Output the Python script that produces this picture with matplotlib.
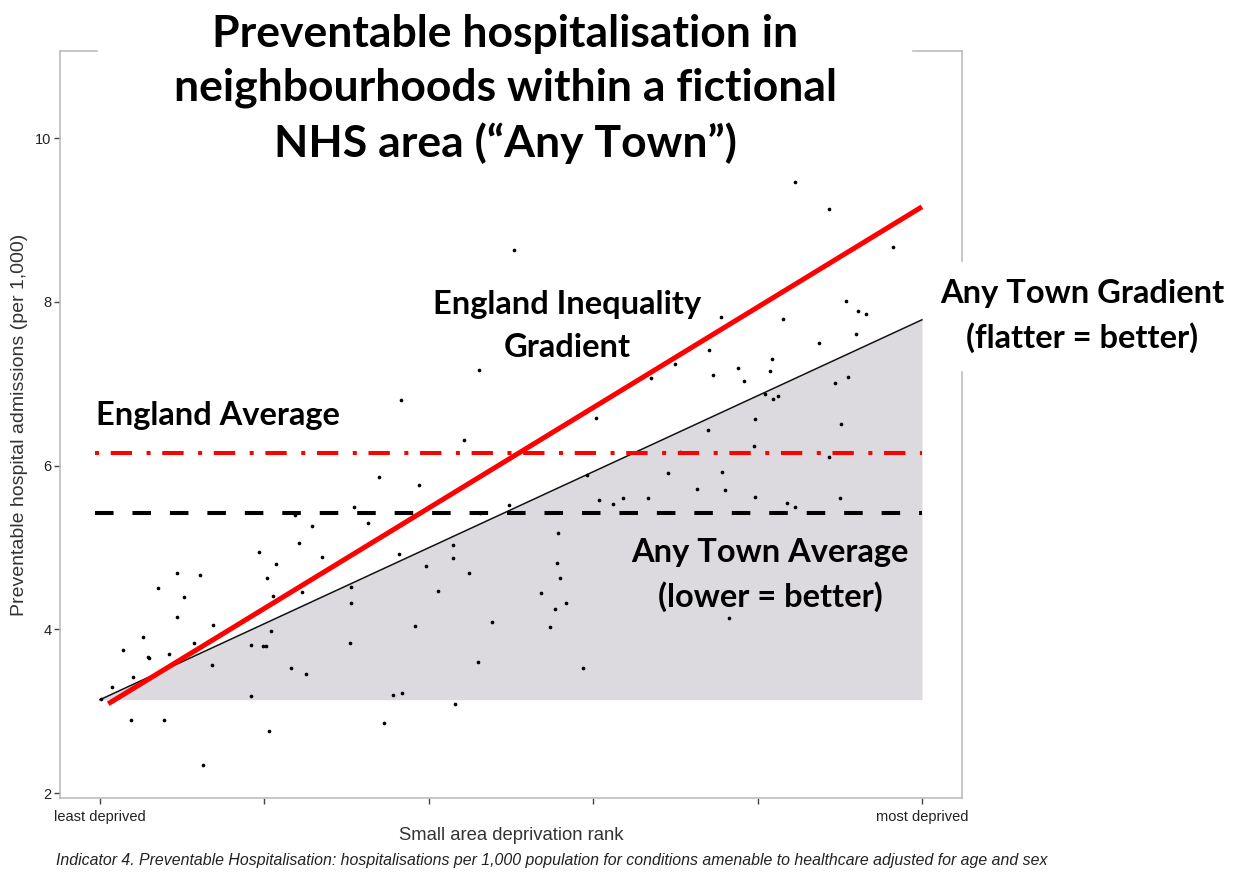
import matplotlib
matplotlib.use('Agg')
import matplotlib.pyplot as plt
from matplotlib.patches import Rectangle

# deprivation rank (0 = least deprived, 100 = most deprived) and admissions per 1,000
rank = [0.1, 1.5, 3.8, 4.0, 2.8, 5.2, 5.8, 6.0, 7.1, 7.8, 8.4, 9.4, 9.4, 10.2, 11.4, 12.2, 12.5, 13.8,
        13.6, 18.4, 18.4, 19.3, 19.8, 20.2, 20.3, 20.6, 20.8, 21.1, 21.4, 23.2, 24.2, 24.6, 25.1, 23.7,
        25.8, 27.0,
        50.4, 46.1, 36.6, 44.3, 33.9, 38.8, 30.9, 32.6, 46.2, 49.8, 36.4, 42.9, 42.9, 39.7, 44.9, 30.5,
        30.5, 41.1, 38.3, 47.7, 30.4, 46.0, 35.6, 36.7, 43.2, 34.5, 55.7, 55.6, 56.0, 53.6, 55.4, 54.7,
        56.7, 58.8, 60.3, 59.2, 60.7, 62.4, 63.6, 66.7, 69.1, 67.0, 70.0, 70.6, 72.6, 74.0, 74.1, 74.6,
        75.5, 75.7, 76.0, 76.5, 77.6, 78.3, 79.6, 79.7, 79.7, 80.9, 81.9, 82.5, 81.5, 81.8, 83.1, 83.6,
        84.5, 88.7, 96.5, 90.7, 92.2, 93.2, 92.0, 87.5, 89.4, 91.0, 90.1, 88.7, 90.0, 84.5]
admissions = [3.15, 3.29, 2.89, 3.42, 3.75, 3.91, 3.66, 3.65, 4.50, 2.89, 3.70, 4.69, 4.15, 4.39, 3.83,
              4.66, 2.34, 4.05, 3.56, 3.81, 3.18, 4.94, 3.80, 3.79, 4.63, 2.76, 3.98, 4.41, 4.80, 3.53,
              5.05, 4.45, 3.45, 5.40, 5.26, 4.88,
              8.63, 7.17, 6.80, 6.31, 5.86, 5.76, 5.49, 5.30, 5.42, 5.52, 4.92, 5.03, 4.87, 4.77, 4.69,
              4.52, 4.32, 4.47, 4.04, 4.09, 3.83, 3.60, 3.20, 3.22, 3.09, 2.85, 5.18, 4.81, 4.63, 4.44,
              4.25, 4.03,
              4.32, 3.53, 6.58, 5.88, 5.58, 5.53, 5.60, 5.60, 5.91, 7.07, 7.24, 6.16, 5.71, 6.43, 7.41,
              7.11, 7.81, 5.92, 5.70, 4.14, 7.19, 7.03, 6.24, 6.57, 5.62, 6.87, 6.81, 6.85, 7.15, 7.30,
              7.79, 5.54,
              9.46, 9.13, 8.67, 8.01, 7.89, 7.85, 7.61, 7.50, 7.01, 7.08, 6.51, 6.10, 5.60, 5.49]

town_grad_x = [0, 100]
town_grad_y = [3.14, 7.78]
england_grad_x = [1, 100]
england_grad_y = [3.09, 9.16]
town_avg = 5.42
england_avg = 6.15

xtick_pos = [0, 20, 40, 60, 80, 100]
xtick_lab = ['least deprived', '', '', '', '', 'most deprived']
ytick_pos = [2, 4, 6, 8, 10]

W, H = 1234, 873
fig = plt.figure(figsize=(W / 100, H / 100), dpi=100)
ax = fig.add_axes([60 / W, 75 / H, 902 / W, 747 / H])
ax.set_xlim(-4.87, 104.87)
ax.set_ylim(1.939, 11.063)

ax.fill_between(town_grad_x, [town_grad_y[0]] * 2, town_grad_y, color='#dcdade', lw=0, zorder=1)
ax.plot(town_grad_x, town_grad_y, color='#111111', lw=1.1, zorder=3)
ax.scatter(rank, admissions, s=7, color='black', linewidths=0, zorder=4)
ax.plot([-0.6, 100], [town_avg] * 2, color='black', lw=2.9, dashes=(4.6, 4.7), zorder=5)
ax.plot([-0.6, 100], [england_avg] * 2, color='#ff0000', lw=2.9, dashes=(1.0, 2.9, 5.3, 3.6), zorder=5)
ax.plot(england_grad_x, england_grad_y, color='#ff0000', lw=3.6, solid_capstyle='butt', zorder=6)

for s in ax.spines.values():
    s.set_color('#b8b8b8')
    s.set_linewidth(1.1)
ax.set_xticks(xtick_pos)
ax.set_xticklabels(xtick_lab)
ax.set_yticks(ytick_pos)
ax.tick_params(direction='out', length=4.5, width=1, color='#444444',
               labelsize=10.5, labelcolor='#222222')
ax.tick_params(axis='y', pad=1.5)
ax.tick_params(axis='x', pad=4)
for lab in ax.get_xticklabels() + ax.get_yticklabels():
    lab.set_family('Liberation Sans')

# white boxes of the slide text hide parts of the frame
fig.patches.append(Rectangle((98 / W, 1 - 58 / H), (911 - 98) / W, 14 / H,
                             transform=fig.transFigure, color='white', zorder=2))
fig.patches.append(Rectangle((955 / W, 1 - 370 / H), 15 / W, (370 - 262) / H,
                             transform=fig.transFigure, color='white', zorder=2))

fig.text(20 / W, 1 - 425 / H, 'Preventable hospital admissions (per 1,000)', rotation=90,
         ha='center', va='center', fontsize=14, color='#333333', family='Liberation Sans')
fig.text(511 / W, 1 - 835 / H, 'Small area deprivation rank', ha='center', va='center',
         fontsize=13.3, color='#333333', family='Liberation Sans')
fig.text(552 / W, 1 - 860 / H,
         'Indicator 4. Preventable Hospitalisation: hospitalisations per 1,000 population for '
         'conditions amenable to healthcare adjusted for age and sex',
         ha='center', va='center', fontsize=11.4, style='italic', color='#222222',
         family='Liberation Sans')

fig.text(505 / W, 1 - 89 / H,
         'Preventable hospitalisation in\nneighbourhoods within a fictional\nNHS area (\u201cAny Town\u201d)',
         ha='center', va='center', fontsize=32, fontweight='bold', family='Lato',
         linespacing=1.42, zorder=3)

bold = dict(fontsize=23.5, fontweight='bold', family='Lato', linespacing=1.55, zorder=3)
fig.text(96 / W, 1 - 416 / H, 'England Average', ha='left', va='center', **bold)
fig.text(567 / W, 1 - 326 / H, 'England Inequality\nGradient', ha='center', va='center', **bold)
fig.text(1082 / W, 1 - 316 / H, 'Any Town Gradient\n(flatter = better)', ha='center', va='center', **bold)
fig.text(770 / W, 1 - 575 / H, 'Any Town Average\n(lower = better)', ha='center', va='center', **bold)

fig.savefig('out.png', dpi=100)
